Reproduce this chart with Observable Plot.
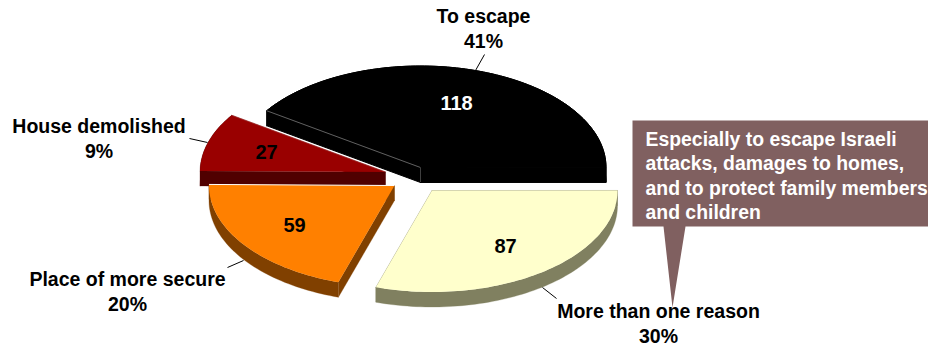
<!DOCTYPE html>
<html>
<head>
<meta charset="utf-8">
<script src="https://cdn.jsdelivr.net/npm/d3@7"></script>
<script src="https://cdn.jsdelivr.net/npm/@observablehq/plot@0.6"></script>
<style>
  html, body { margin: 0; padding: 0; background: #fff; overflow: hidden; }
  svg { display: block; }
</style>
</head>
<body>
<div id="chart"></div>
<script>
// Reasons for moving: respondent counts and their shares.
const reasons = ["To escape", "More than one reason", "Place of more secure", "House demolished"];
const counts = [118, 87, 59, 27];
const shares = ["41%", "30%", "20%", "9%"];
const noteLines = [
  "Especially to escape Israeli",
  "attacks, damages to homes,",
  "and to protect family members",
  "and children"
];

// Surface and wall colours per slice.
const topColors = ["#000000", "#ffffcc", "#ff8000", "#990000"];
const wallColors = ["#000000", "#808060", "#804000", "#500000"];
const wallOutline = [1, 0.3, 0.3, 0.3];

// Layout of the tilted pie, in pixels.
const W = 928, H = 348;
const rx = 185.5, ry = 101.5, depth = 15;
const firstAngle = 304; // degrees clockwise from north
const apexes = [[420, 167], [431.5, 190], [394, 185], [385, 171.5]];
const wedgeLabels = [[456, 103], [505, 246], [294, 225], [266, 152]];
const nameLabels = [
  {x: 483, y: [16, 41]},
  {x: 658, y: [311, 336]},
  {x: 127, y: [279, 304]},
  {x: 98.5, y: [126, 151]}
];
const leaders = [
  [[475, 70], [484, 54]],
  [[542, 287], [556, 298]],
  [[243, 260], [227, 267]],
  [[207, 142], [189, 138]]
];

// Slice angles follow the counts.
const arcs = d3.pie().sort(null).value(d => d).startAngle(firstAngle * Math.PI / 180)
  .endAngle((firstAngle + 360) * Math.PI / 180)(counts);

function rim(i, a) {
  const [cx, cy] = apexes[i];
  return [cx + rx * Math.sin(a), cy - ry * Math.cos(a)];
}

const surfaces = [], walls = [], seams = [];
arcs.forEach((arc, i) => {
  const n = Math.max(8, Math.ceil((arc.endAngle - arc.startAngle) * 40));
  const outer = d3.range(n + 1).map(k => rim(i, arc.startAngle + (arc.endAngle - arc.startAngle) * k / n));
  const apex = apexes[i];
  const drop = ([x, y]) => [x, y + depth];
  const push = (list, id, pts) => pts.forEach(([x, y]) => list.push({x, y, id, slice: i}));

  push(surfaces, `top${i}`, [apex, ...outer]);
  // Rim wall plus the two radial walls, all hidden by the top face where they face away.
  push(walls, `rim${i}`, [...outer, ...outer.slice().reverse().map(drop)]);
  push(walls, `a${i}`, [apex, outer[0], drop(outer[0]), drop(apex)]);
  push(walls, `b${i}`, [apex, outer[n], drop(outer[n]), drop(apex)]);
  // Light seam along the lower radial edge of the top face.
  seams.push({slice: i, x1: apex[0], y1: apex[1], x2: outer[i === 0 ? 0 : n][0], y2: outer[i === 0 ? 0 : n][1]});
});

const seamStyle = [["#8a8a8a", 0.7], ["#ffffcc", 0], ["#ffffff", 1], ["#b04040", 0.6]];
const topStroke = ["#000000", "none", "none", "none"];

// Speech-bubble note: box and tail as one outline.
const bubble = [[632, 120], [928, 120], [928, 226], [685, 226], [672, 307], [663, 226], [632, 226]]
  .map(([x, y]) => ({x, y}));

const nameRows = reasons.flatMap((r, i) => [
  {text: r, x: nameLabels[i].x, y: nameLabels[i].y[0]},
  {text: shares[i], x: nameLabels[i].x, y: nameLabels[i].y[1]}
]);
const bold = {fontFamily: "'Liberation Sans', Arial, sans-serif", fontWeight: "bold"};

const chart = Plot.plot({
  width: W, height: H,
  marginTop: 0, marginRight: 0, marginBottom: 0, marginLeft: 0,
  x: {domain: [0, W], range: [0, W], axis: null},
  y: {domain: [0, H], range: [0, H], axis: null},
  style: {background: "#fff", overflow: "hidden"},
  marks: [
    // Back to front: walls first, then faces, for each slice in turn.
    ...[0, 3, 2, 1].flatMap(i => [
      Plot.line(walls.filter(d => d.slice === i), {x: "x", y: "y", z: "id", fill: wallColors[i], stroke: wallColors[i], strokeWidth: wallOutline[i]}),
      Plot.line(surfaces.filter(d => d.slice === i), {x: "x", y: "y", z: "id", fill: topColors[i], stroke: topStroke[i], strokeWidth: 1}),
      Plot.link(seams.filter(d => d.slice === i), {x1: "x1", y1: "y1", x2: "x2", y2: "y2", stroke: seamStyle[i][0], strokeWidth: seamStyle[i][1]})
    ]),
    Plot.link(leaders, {x1: d => d[0][0], y1: d => d[0][1], x2: d => d[1][0], y2: d => d[1][1], stroke: "#000", strokeWidth: 1}),
    Plot.line(bubble, {x: "x", y: "y", fill: "#806060", stroke: "none"}),
    Plot.text(noteLines, {x: 645, y: (d, i) => 139 + 24.5 * i, text: d => d, textAnchor: "start", fill: "#fff", fontSize: 19.4, ...bold}),
    Plot.text(counts, {x: (d, i) => wedgeLabels[i][0], y: (d, i) => wedgeLabels[i][1], text: d => String(d), fill: (d, i) => i === 0 ? "#fff" : "#000", fontSize: 20, ...bold}),
    Plot.text(nameRows, {x: "x", y: "y", text: "text", fill: "#000", fontSize: 19.5, ...bold})
  ]
});
document.getElementById("chart").append(chart);
</script>
</body>
</html>
